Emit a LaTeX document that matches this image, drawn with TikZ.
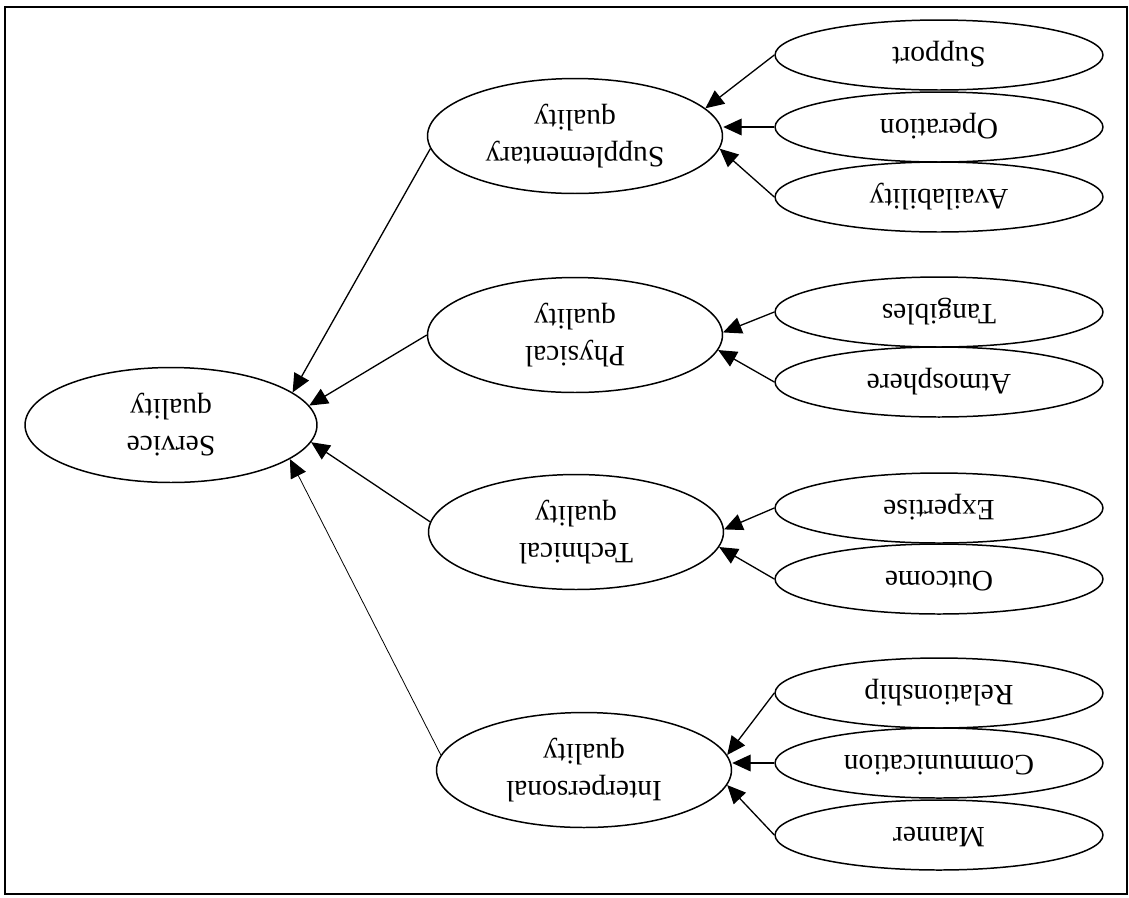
\documentclass[tikz,border=0pt]{standalone}
\usepackage{fontspec}
\setmainfont{Liberation Serif}
\usetikzlibrary{shapes.geometric, arrows.meta}
\tikzset{
  factor/.style={ellipse, draw, line width=0.85pt, minimum width=5.9cm, minimum height=2.3cm, inner sep=0pt, font=\fontsize{16.8}{21}\selectfont},
  item/.style={factor, minimum width=6.56cm, minimum height=1.4cm},
  link/.style={-{Triangle[length=10.5pt,width=9.5pt]}, line width=0.75pt},
}
\newcommand{\upsd}[1]{\rotatebox{180}{\begin{tabular}{@{}c@{}}#1\end{tabular}}}

\begin{document}
\begin{tikzpicture}[x=0.02cm, y=-0.02cm]
\useasboundingbox (0,0) rectangle (1129,897);
\draw[line width=1.1pt] (5,7) rectangle (1127,894);

\node[factor, minimum width=5.84cm] (serv) at (171,425) {\upsd{Service\\quality}};
\node[factor] (supp) at (575,136) {\upsd{Supplementary\\quality}};
\node[factor] (phys) at (575,335) {\upsd{Physical\\quality}};
\node[factor] (tech) at (576,532) {\upsd{Technical\\quality}};
\node[factor] (inte) at (584,770) {\upsd{Interpersonal\\quality}};

\foreach \name/\y/\txt in {supo/55/Support, oper/127/Operation, avai/197/Availability,
    tang/312/Tangibles, atmo/382/Atmosphere, expe/508/Expertise, outc/579/Outcome,
    rela/693/Relationship, comm/763/Communication, mann/835/Manner}{
    \node[item] (\name) at (939,\y) {\upsd{\txt}};
}

\draw[link] (supp.185) -- (serv.15);
\draw[link] (phys.west) -- (serv.8);
\draw[link] (tech.176) -- (serv.-7);
\draw[link, line width=0.45pt] (inte.174) -- (serv.-16);

\draw[link] (supo.west) -- (supp.12);
\draw[link] (oper.west) -- (oper.west -| supp.east);
\draw[link] (avai.west) -- (supp.-5);
\draw[link] (tang.west) -- (phys.1);
\draw[link] (atmo.west) -- (phys.-6);
\draw[link] (expe.west) -- (tech.1);
\draw[link] (outc.west) -- (tech.-6);
\draw[link] (rela.west) -- (inte.6);
\draw[link] (comm.west) -- (comm.west -| inte.east);
\draw[link] (mann.west) -- (inte.-6);

\end{tikzpicture}
\end{document}
